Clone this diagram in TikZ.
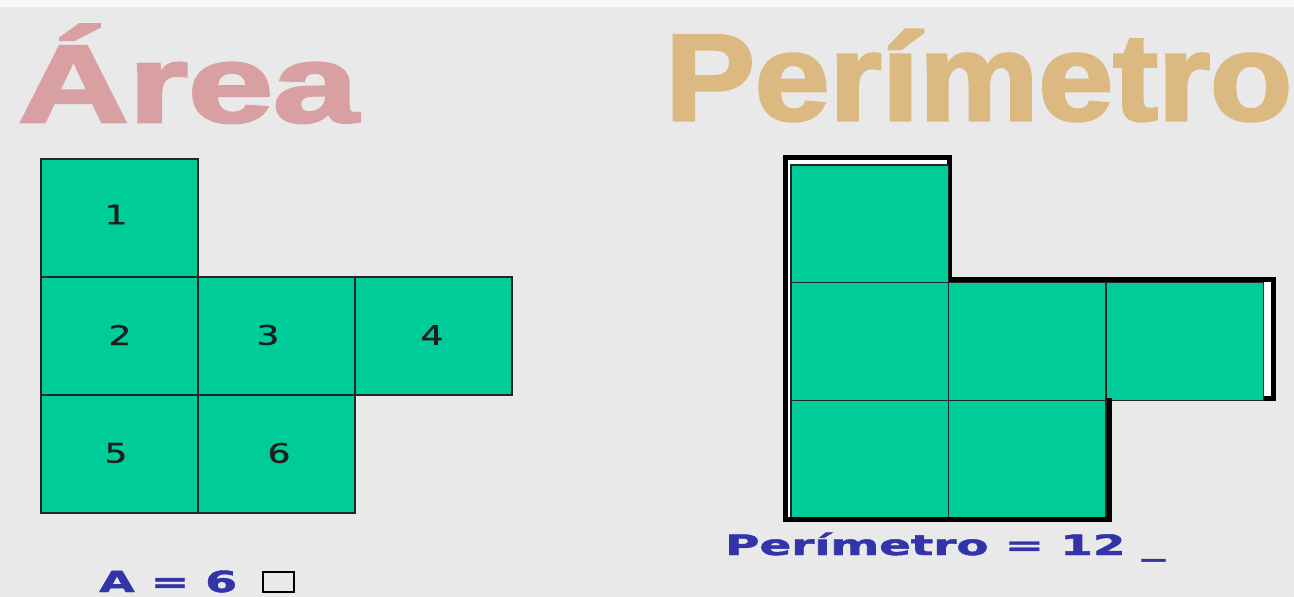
\documentclass[tikz,border=0pt]{standalone}
\usepackage{fontspec}
\usepackage{graphicx}
\setmainfont{DejaVu Sans}
\newfontfamily\titlefont{Liberation Sans Bold}[FakeBold=2.5]
\newfontfamily\eqfont{DejaVu Sans Bold}[FakeBold=1.5]
\newfontfamily\digitfont{DejaVu Sans}[FakeBold=0.6]
\definecolor{cellgreen}{RGB}{0,204,153}
\definecolor{areapink}{RGB}{216,160,162}
\definecolor{pertan}{RGB}{221,185,130}
\definecolor{txtblue}{RGB}{51,51,170}
\definecolor{bggray}{RGB}{233,233,233}
\definecolor{digitcol}{RGB}{30,30,30}
\begin{document}
\begin{tikzpicture}[x=1pt,y=-1pt,
  acell/.style={draw=black!85, line width=1.2pt, fill=cellgreen, inner sep=0pt,
    minimum width=157pt, minimum height=118pt},
  pcell/.style={draw=black!85, line width=1.1pt, fill=cellgreen, inner sep=0pt,
    minimum width=157.5pt, minimum height=117.7pt},
  digit/.style={inner sep=0pt, text=digitcol, font=\digitfont\fontsize{27}{27}\selectfont},
  title/.style={anchor=base west, inner sep=0pt},
  eqtext/.style={anchor=base west, inner sep=0pt, text=txtblue}]
\useasboundingbox (0,0) rectangle (1294,597);
\fill[bggray] (0,0) rectangle (1294,597);
\fill[white!70!bggray] (0,0) rectangle (1294,7);

% titles
\node[title, text=areapink] (tarea) at (18,122)
  {\resizebox{340pt}{\height}{\titlefont\fontsize{110}{110}\selectfont Área}};
\node[title, text=pertan] (tper) at (665,120)
  {\resizebox{627pt}{\height}{\titlefont\fontsize{123}{123}\selectfont Perímetro}};

% left grid (area)
\node[acell] (a1) at (119.5,218) {};
\node[acell] (a2) at (119.5,336) {};
\node[acell] (a3) at (276.5,336) {};
\node[acell] (a4) at (433.5,336) {};
\node[acell] (a5) at (119.5,454) {};
\node[acell] (a6) at (276.5,454) {};
\node[digit] (n1) at (116,214.5) {\scalebox{1.35}[1]{1}};
\node[digit] (n2) at (120,335) {\scalebox{1.35}[1]{2}};
\node[digit] (n3) at (268,335) {\scalebox{1.35}[1]{3}};
\node[digit] (n4) at (432,335) {\scalebox{1.35}[1]{4}};
\node[digit] (n5) at (116,453) {\scalebox{1.35}[1]{5}};
\node[digit] (n6) at (279,453) {\scalebox{1.35}[1]{6}};

% right grid (perimeter)
\filldraw[fill=white, draw=black, line width=5pt, line join=miter]
  (785,157) -- (949,157) -- (949,279) -- (1273,279) -- (1273,398)
  -- (1109,398) -- (1109,519) -- (785,519) -- cycle;
\node[pcell] (p1) at (869.75,223.85) {};
\node[pcell] (p2) at (869.75,341.55) {};
\node[pcell] (p3) at (1027.25,341.55) {};
\node[pcell] (p4) at (1184.75,341.55) {};
\node[pcell] (p5) at (869.75,459.25) {};
\node[pcell] (p6) at (1027.25,459.25) {};
\draw[black, line width=5pt] (785,519) -- (1109,519) -- (1109,398);

% equations
\node[eqtext] (areaeq) at (99,592)
  {\resizebox{138pt}{\height}{\eqfont\fontsize{29}{29}\selectfont A = 6}};
\node[draw=black, line width=2pt, minimum width=31pt, minimum height=20pt, inner sep=0pt]
  (unitbox) at (278.5,581.5) {};
\node[eqtext] (pereq) at (725,555)
  {\resizebox{440pt}{\height}{\eqfont\fontsize{28}{28}\selectfont Perímetro = 12 \_}};
\end{tikzpicture}
\end{document}
